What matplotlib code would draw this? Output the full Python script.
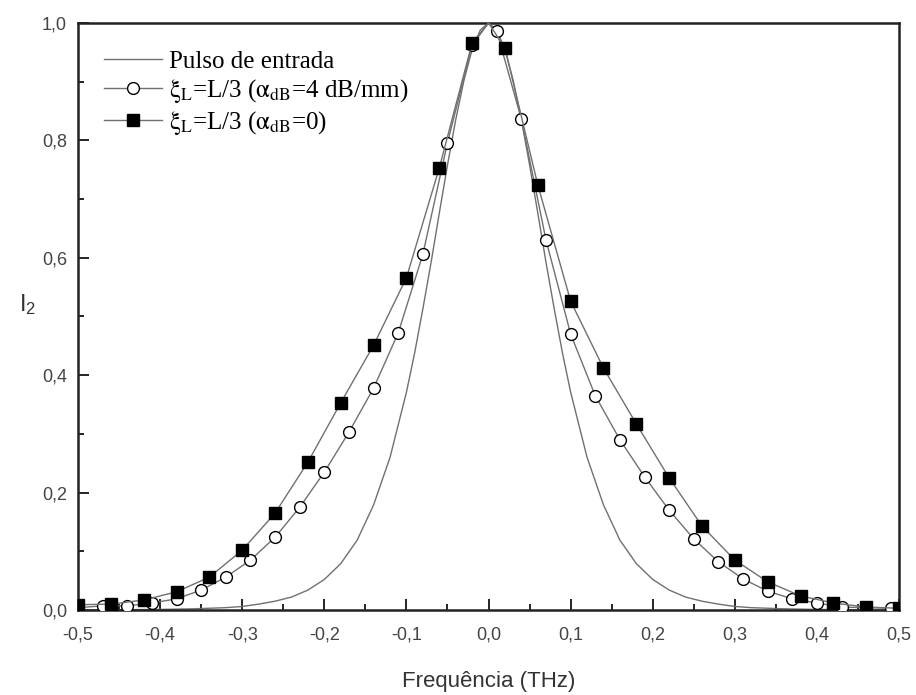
import matplotlib
matplotlib.use("Agg")
import matplotlib.pyplot as plt
from matplotlib.ticker import MultipleLocator, FuncFormatter
import numpy as np

# input pulse
pulse_x = [-0.50, -0.40, -0.36, -0.32, -0.30, -0.28, -0.26, -0.24, -0.22, -0.20,
           -0.18, -0.16, -0.14, -0.12, -0.10, -0.09, -0.08, -0.07, -0.06, -0.05,
           -0.04, -0.03, -0.02, -0.01, 0.00, 0.01, 0.02, 0.03, 0.04, 0.05,
           0.06, 0.07, 0.08, 0.09, 0.10, 0.12, 0.14, 0.16, 0.18, 0.20,
           0.22, 0.24, 0.26, 0.28, 0.30, 0.32, 0.36, 0.40, 0.50]
pulse_y = [0.000, 0.001, 0.002, 0.004, 0.006, 0.010, 0.015, 0.022, 0.034, 0.052,
           0.079, 0.119, 0.179, 0.260, 0.371, 0.438, 0.513, 0.592, 0.676, 0.758,
           0.835, 0.902, 0.955, 0.988, 1.000, 0.988, 0.955, 0.902, 0.835, 0.758,
           0.676, 0.592, 0.513, 0.438, 0.371, 0.260, 0.179, 0.119, 0.079, 0.052,
           0.034, 0.022, 0.015, 0.010, 0.006, 0.004, 0.002, 0.001, 0.000]

# xi_L = L/3, alpha_dB = 4 dB/mm (open circles)
circ_x = [-0.50, -0.47, -0.44, -0.41, -0.38, -0.35, -0.32, -0.29, -0.26, -0.23,
          -0.20, -0.17, -0.14, -0.11, -0.08, -0.05, -0.02, 0.01, 0.04, 0.07,
          0.10, 0.13, 0.16, 0.19, 0.22, 0.25, 0.28, 0.31, 0.34, 0.37,
          0.40, 0.43, 0.46, 0.49]
circ_y = [0.004, 0.007, 0.007, 0.012, 0.019, 0.034, 0.056, 0.085, 0.124, 0.175,
          0.235, 0.303, 0.378, 0.472, 0.606, 0.796, 0.962, 0.986, 0.836, 0.630,
          0.470, 0.365, 0.290, 0.227, 0.170, 0.121, 0.082, 0.053, 0.032, 0.019,
          0.012, 0.005, 0.004, 0.003]

# xi_L = L/3, alpha_dB = 0 (filled squares)
sq_x = [-0.50, -0.46, -0.42, -0.38, -0.34, -0.30, -0.26, -0.22, -0.18, -0.14,
        -0.10, -0.06, -0.02, 0.02, 0.06, 0.10, 0.14, 0.18, 0.22, 0.26,
        0.30, 0.34, 0.38, 0.42, 0.46, 0.50]
sq_y = [0.009, 0.010, 0.017, 0.031, 0.056, 0.102, 0.165, 0.252, 0.353, 0.451,
        0.566, 0.753, 0.966, 0.957, 0.724, 0.526, 0.412, 0.317, 0.225, 0.143,
        0.085, 0.048, 0.024, 0.012, 0.005, 0.003]

# both simulated curves reach the top at zero frequency
peak_x = 0.0
peak_y = 1.0

plt.rcParams['font.family'] = ['Liberation Sans', 'DejaVu Sans']
plt.rcParams['mathtext.fontset'] = 'stix'

fig = plt.figure(figsize=(9.16, 6.95), dpi=100)
ax = fig.add_axes([0.0852, 0.1223, 0.8963, 0.8447])

line_c = '#707070'

ax.plot(pulse_x, pulse_y, color=line_c, lw=1.0, label='Pulso de entrada')

# circle series, with the peak point on the line only
cx = circ_x[:17] + [peak_x] + circ_x[17:]
cy = circ_y[:17] + [peak_y] + circ_y[17:]
cmark = [i for i in range(len(cx)) if i != 17]
ax.plot(cx, cy, color=line_c, lw=1.0, marker='o', ms=8.5, mfc='white',
        mec='black', mew=1.0, markevery=cmark, zorder=3,
        label=r'$\mathrm{\xi_L}$=L/3 ($\mathrm{\alpha_{dB}}$=4 dB/mm)')

sx = sq_x[:13] + [peak_x] + sq_x[13:]
sy = sq_y[:13] + [peak_y] + sq_y[13:]
smark = [i for i in range(len(sx)) if i != 13]
ax.plot(sx, sy, color=line_c, lw=1.0, marker='s', ms=8, mfc='black',
        mec='black', mew=1.0, markevery=smark, zorder=4,
        label=r'$\mathrm{\xi_L}$=L/3 ($\mathrm{\alpha_{dB}}$=0)')

ax.set_xlim(-0.5, 0.5)
ax.set_ylim(0.0, 1.0)

ax.xaxis.set_major_locator(MultipleLocator(0.1))
ax.xaxis.set_minor_locator(MultipleLocator(0.05))
ax.yaxis.set_major_locator(MultipleLocator(0.2))
ax.yaxis.set_minor_locator(MultipleLocator(0.1))

comma = FuncFormatter(lambda v, p: f'{v:.1f}'.replace('.', ',').replace('-0,0', '0,0'))
ax.xaxis.set_major_formatter(comma)
ax.yaxis.set_major_formatter(comma)

ax.tick_params(which='both', direction='in', top=False, right=False,
               labelsize=13, labelcolor='#444444', width=1.2)
ax.tick_params(which='major', length=8)
ax.tick_params(axis='x', which='major', pad=12)
ax.tick_params(axis='y', which='major', pad=8)
ax.tick_params(which='minor', length=4)

for s in ax.spines.values():
    s.set_linewidth(1.8)
    s.set_color('#222222')

ax.set_xlabel('Frequência (THz)', fontsize=16, color='#333333', labelpad=20)
ax.set_ylabel(r'$\mathregular{I_2}$', fontsize=17, color='#333333',
              math_fontfamily='dejavusans', rotation=0, ha='center', va='center')
ax.yaxis.set_label_coords(-0.062, 0.52)

leg = ax.legend(loc='upper left', frameon=False,
                prop={'family': 'Liberation Serif', 'size': 18},
                handlelength=2.3, handletextpad=0.3, labelspacing=0.15,
                borderaxespad=0.0, bbox_to_anchor=(0.02, 0.97))

fig.savefig('out.png', dpi=100)
